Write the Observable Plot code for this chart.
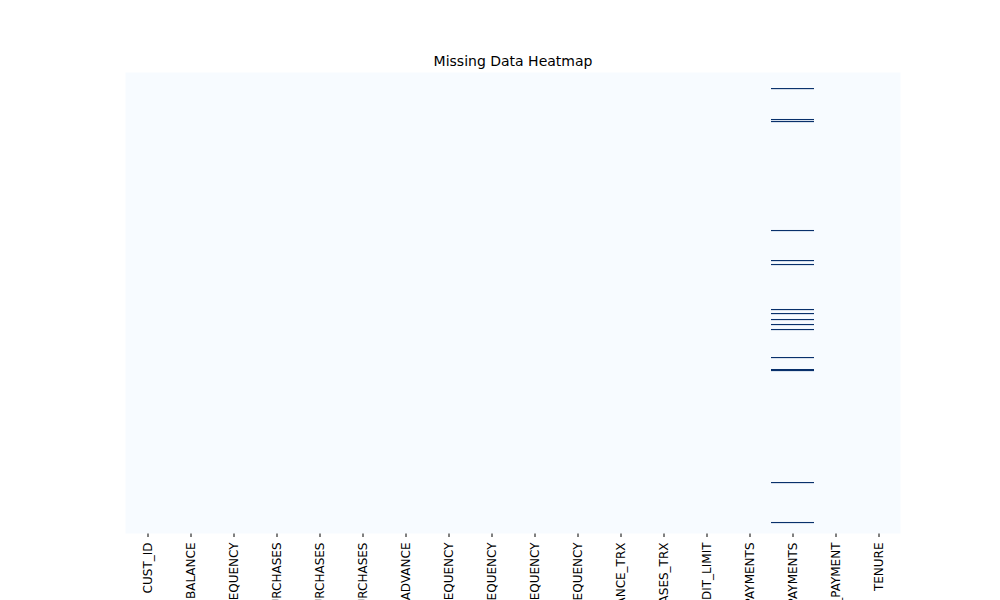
<!DOCTYPE html>
<html><head><meta charset="utf-8">
<script src="https://cdn.jsdelivr.net/npm/d3@7"></script>
<script src="https://cdn.jsdelivr.net/npm/@observablehq/plot@0.6"></script>
<style>body{margin:0;background:#fff;font-family:"DejaVu Sans",sans-serif}</style>
</head><body><div id="chart"></div>
<script>
const columns = ["CUST_ID","BALANCE","BALANCE_FREQUENCY","PURCHASES","ONEOFF_PURCHASES","INSTALLMENTS_PURCHASES","CASH_ADVANCE","PURCHASES_FREQUENCY","ONEOFF_PURCHASES_FREQUENCY","PURCHASES_INSTALLMENTS_FREQUENCY","CASH_ADVANCE_FREQUENCY","CASH_ADVANCE_TRX","PURCHASES_TRX","CREDIT_LIMIT","PAYMENTS","MINIMUM_PAYMENTS","PRC_FULL_PAYMENT","TENURE"];
const nRows = 8950;
const missingColumn = "MINIMUM_PAYMENTS";
const missingRows = [311,912,951,3067,3650,3727,4601,4679,4795,4892,4989,5533,5766,5785,7960,8736];

const cells = missingRows.map(r => ({col: missingColumn, row: r}));

const chart = Plot.plot({
  width: 1000, height: 600,
  marginTop: 72, marginBottom: 67, marginLeft: 125, marginRight: 100,
  style: {fontFamily: "DejaVu Sans", fontSize: "12px", color: "#000"},
  x: {domain: columns, label: null, padding: 0, tickRotate: -90, tickSize: 4},
  y: {domain: [0, nRows], reverse: true, axis: null},
  marks: [
    Plot.frame({fill: "#f7fbff", stroke: null}),
    Plot.barY(cells, {x: "col", y1: "row", y2: d => d.row + 22, fill: "#08306b", inset: 0}),
    Plot.text(["Missing Data Heatmap"], {frameAnchor: "top", dy: -7, fontSize: 14, lineAnchor: "bottom"})
  ]
});
document.getElementById("chart").append(chart);
</script></body></html>
